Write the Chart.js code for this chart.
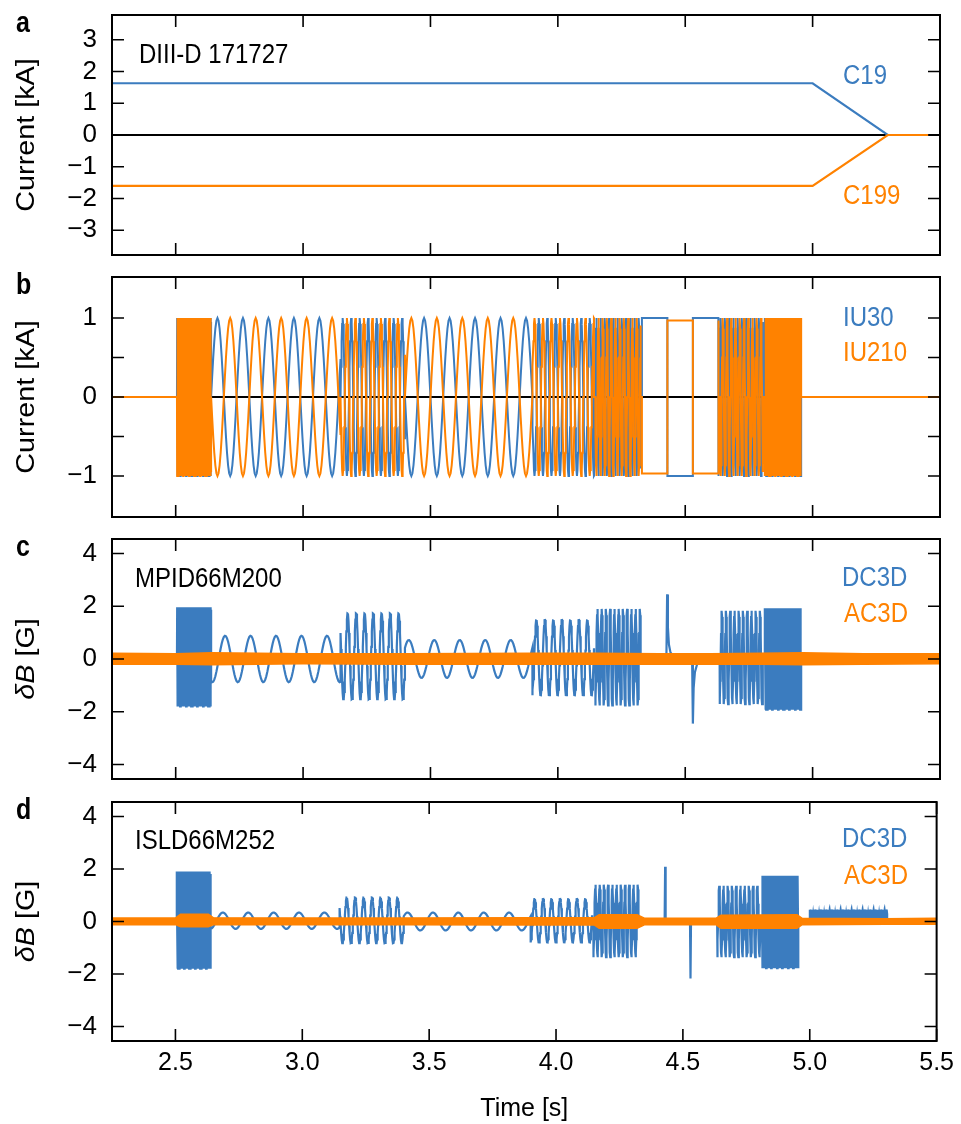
<!DOCTYPE html>
<html>
<head>
<meta charset="utf-8">
<script src="https://cdn.jsdelivr.net/npm/chart.js@4.4.1/dist/chart.umd.min.js"></script>
<style>
  html, body { margin: 0; padding: 0; background: #fff; }
  #fig { position: relative; width: 961px; height: 1124px; }
  #fig canvas { position: absolute; left: 0; top: 0; }
</style>
</head>
<body>
<div id="fig">
  <canvas id="panelA" width="961" height="1124"></canvas>
  <canvas id="panelB" width="961" height="1124"></canvas>
  <canvas id="panelC" width="961" height="1124"></canvas>
  <canvas id="panelD" width="961" height="1124"></canvas>
</div>
<script>
const FAMILY = "'Liberation Sans', Arial, sans-serif";
const BLUE = '#3b7cbf';
const ORANGE = '#ff8200';

// axis ticks
const timeTicks = [2.5, 3.0, 3.5, 4.0, 4.5, 5.0, 5.5];
const coilTicks = [-3, -2, -1, 0, 1, 2, 3];
const iCoilTicks = [-1, -0.5, 0, 0.5, 1];
const probeTicks = [-4, -2, 0, 2, 4];

// a: C-coil currents [kA]
const cTime = [2.25, 5.0, 5.295, 5.455];
const c19 = [1.63, 1.63, 0, 0];
const c199 = [-1.6, -1.6, 0, 0];

// b: I-coil programme, one entry per segment
const segStart = [2.505, 2.639, 3.147, 3.400, 3.900, 4.147, 4.330, 4.635, 4.812];
const segEnd   = [2.639, 3.147, 3.400, 3.900, 4.142, 4.325, 4.631, 4.805, 4.955];
const segFreq  = [300, 10, 30, 10, 30, 60, 5, 60, 300];          // Hz
const segShape = ['sine', 'sine', 'sine', 'sine', 'sine', 'sine', 'square', 'sine', 'sine'];
const iu30Amp  = [1, 1, 1, -1, -1, 1, 1, 1, 1];                  // kA, sign = first swing
const iu210Amp = [-1, -1, -1, 1, 1, -1, -0.97, -1, -1];

// c: MPID66M200 DC3D response per segment [G]
const mpidAmp = [1.88, 0.88, 1.65, 0.72, 1.45, 1.83, 0, 1.77, 1.92];
const mpidOff = [0.08, 0, 0.1, 0, 0.05, 0.07, 0, 0.06, 0];
const mpidLag = [0, 0.30, 0.59, -0.10, 0.22, 0.25, 0, 0.25, 0];  // cycles
const mpidSpikeT = [4.426, 4.429, 4.432, 4.436, 4.442, 4.452, 4.470, 4.527, 4.530, 4.533, 4.538, 4.546, 4.556, 4.575];
const mpidSpikeV = [0, 2.45, 1.2, 0.55, 0.25, 0.12, 0.03, 0, -2.45, -1.1, -0.5, -0.22, -0.1, -0.03];
const mpidNoiseT  = [2.25, 2.5, 2.64, 3.0, 3.4, 3.9, 4.15, 4.4, 4.6, 4.8, 4.96, 5.2, 5.5];
const mpidNoiseHi = [0.22, 0.2, 0.24, 0.2, 0.2, 0.22, 0.22, 0.2, 0.2, 0.22, 0.24, 0.2, 0.2];
const mpidNoiseLo = [-0.2, -0.2, -0.22, -0.18, -0.2, -0.2, -0.2, -0.2, -0.2, -0.2, -0.22, -0.2, -0.18];

// d: ISLD66M252 DC3D response per segment [G]
const isldAmp = [1.85, 0.31, 0.88, 0.34, 0.84, 1.38, 0, 1.36, 1.76];
const isldOff = [0.05, 0.03, 0.04, 0, 0.03, 0.02, 0, 0, -0.02];
const isldLag = [0, 0.23, 0.59, -0.10, 0.22, 0.25, 0, 0.25, 0];
const isldTail = { start: 5.0, end: 5.305, freq: 300, amp: 0.17, off: 0.28 };
const isldSpikeT = [4.428, 4.430, 4.432, 4.528, 4.530, 4.532];
const isldSpikeV = [0, 2.08, 0, 0, -2.17, 0];
const isldNoiseT  = [2.25, 2.5, 2.52, 2.63, 2.65, 3.15, 3.4, 3.9, 4.15, 4.17, 4.32, 4.35, 4.63, 4.65, 4.95, 4.97, 5.3, 5.5];
const isldNoiseHi = [0.13, 0.13, 0.28, 0.28, 0.14, 0.13, 0.13, 0.14, 0.14, 0.26, 0.26, 0.12, 0.12, 0.24, 0.26, 0.12, 0.1, 0.12];
const isldNoiseLo = [-0.12, -0.12, -0.2, -0.2, -0.12, -0.12, -0.12, -0.13, -0.13, -0.26, -0.26, -0.12, -0.12, -0.26, -0.26, -0.12, -0.1, -0.1];

// one tone burst (or square burst) between t0 and t1
function burst(pts, t0, t1, f, a, lag, off, shape) {
  if (!a) return;
  pts.push({x: t0, y: 0});
  if (shape === 'square') {
    let t = t0, s = 1;
    while (t < t1 - 1e-6) {
      const tn = Math.min(t + 0.5 / f, t1);
      pts.push({x: t, y: s * a}, {x: tn, y: s * a});
      s = -s; t = tn;
    }
  } else {
    const spc = f > 100 ? 4 : f > 40 ? 12 : f > 20 ? 16 : 24;
    const n = Math.floor((t1 - t0) * f * spc);
    const at = t => ({x: t, y: off + a * Math.sin(2 * Math.PI * (f * (t - t0) - lag))});
    for (let k = 0; k <= n; k++) pts.push(at(t0 + k / (f * spc)));
    pts.push(at(t1));
  }
  pts.push({x: t1, y: 0});
}

function wave(amp, lag, off, extraT, extraV) {
  const pts = [{x: 2.25, y: 0}];
  segStart.forEach((t0, i) => {
    burst(pts, t0, segEnd[i], segFreq[i], amp[i], lag ? lag[i] : 0, off ? off[i] : 0, segShape[i]);
  });
  if (extraT) extraT.forEach((t, i) => pts.push({x: t, y: extraV[i]}));
  pts.push({x: 5.5, y: 0});
  return pts.sort((p, q) => p.x - q.x);
}

const xy = (xs, ys) => xs.map((x, i) => ({x, y: ys[i]}));
const zero = [{x: 2.25, y: 0}, {x: 5.5, y: 0}];
const fmt = v => (v < 0 ? '\u2212' : '') + Math.abs(v);

// inward ticks on all four sides plus the box
function frame(yTicks) {
  return {
    id: 'frame',
    afterDatasetsDraw(chart) {
      const {ctx, chartArea: {left, right, top, bottom}, scales: {x, y}} = chart;
      ctx.save();
      ctx.strokeStyle = '#000';
      ctx.lineWidth = 1.6;
      ctx.beginPath();
      timeTicks.forEach(v => {
        const px = x.getPixelForValue(v);
        ctx.moveTo(px, top); ctx.lineTo(px, top + 12);
        ctx.moveTo(px, bottom); ctx.lineTo(px, bottom - 12);
      });
      yTicks.forEach(v => {
        const py = y.getPixelForValue(v);
        ctx.moveTo(left, py); ctx.lineTo(left + 12, py);
        ctx.moveTo(right, py); ctx.lineTo(right - 12, py);
      });
      ctx.stroke();
      ctx.lineWidth = 2;
      ctx.strokeRect(left, top, right - left, bottom - top);
      ctx.restore();
    }
  };
}

// panel letter, rotated y title and in-panel names (drawn slightly tall)
const STRETCH = 1.15;
function texts(letter, title, notes) {
  return {
    id: 'texts',
    afterDraw(chart) {
      const {ctx, chartArea: a} = chart;
      ctx.save();
      ctx.fillStyle = '#000';
      ctx.textBaseline = 'alphabetic';

      ctx.save();
      ctx.translate(16, a.top + 17);
      ctx.scale(1, STRETCH);
      ctx.font = 'bold 25px ' + FAMILY;
      ctx.fillText(letter, 0, 0);
      ctx.restore();

      ctx.save();
      ctx.translate(27, (a.top + a.bottom) / 2);
      ctx.rotate(-Math.PI / 2);
      ctx.scale(STRETCH, 1);
      ctx.textBaseline = 'middle';
      let w = 0;
      title.forEach(([s, st]) => { ctx.font = st + '25px ' + FAMILY; w += ctx.measureText(s).width; });
      let cx = -w / 2;
      title.forEach(([s, st]) => {
        ctx.font = st + '25px ' + FAMILY;
        ctx.fillText(s, cx, 0);
        cx += ctx.measureText(s).width;
      });
      ctx.restore();

      ctx.font = '24px ' + FAMILY;
      notes.forEach(([s, x, y, c]) => {
        ctx.save();
        ctx.translate(x, y);
        ctx.scale(1, STRETCH);
        ctx.fillStyle = c;
        ctx.fillText(s, 0, 0);
        ctx.restore();
      });
      ctx.restore();
    }
  };
}

Chart.defaults.font.family = FAMILY;
Chart.defaults.color = '#000';

function panel(id, cfg) {
  const bottomAxis = !!cfg.timeAxis;
  const x = {
    type: 'linear', min: 2.25, max: 5.5, display: bottomAxis,
    afterBuildTicks: s => { s.ticks = timeTicks.map(v => ({value: v})); },
    grid: {display: false, drawTicks: false}, border: {display: false},
    ticks: {padding: 7, autoSkip: false, maxRotation: 0, font: {size: 25}, callback: v => v.toFixed(1)},
    title: {display: true, text: 'Time [s]', font: {size: 25}, padding: {top: 0, bottom: 0}}
  };
  if (bottomAxis) x.afterFit = s => { s.height = 1124 - cfg.bottom; };
  return new Chart(document.getElementById(id), {
    type: 'line',
    data: {datasets: cfg.datasets},
    options: {
      animation: false, responsive: false, devicePixelRatio: 1,
      parsing: false, normalized: true,
      layout: {padding: {top: cfg.top, bottom: bottomAxis ? 0 : 1124 - cfg.bottom, left: 0, right: 21}},
      elements: {point: {radius: 0}, line: {tension: 0}},
      plugins: {legend: {display: false}, tooltip: {enabled: false}},
      scales: {
        x,
        y: {
          type: 'linear', min: -cfg.ymax, max: cfg.ymax,
          afterBuildTicks: s => { s.ticks = cfg.yTicks.map(v => ({value: v})); },
          afterFit: s => { s.width = 112; s.paddingTop = 0; s.paddingBottom = 0; },
          grid: {display: false, drawTicks: false}, border: {display: false},
          ticks: {padding: 15, font: {size: 26}, callback: v => Number.isInteger(v) ? fmt(v) : ''}
        }
      }
    },
    plugins: [frame(cfg.yTicks), texts(cfg.letter, cfg.title, cfg.notes)]
  });
}

const line = (data, color, width, order, extra) =>
  Object.assign({data, borderColor: color, borderWidth: width, order, fill: false}, extra || {});

panel('panelA', {
  top: 15, bottom: 255, ymax: 3.78, yTicks: coilTicks, letter: 'a',
  title: [['Current [kA]', '']],
  notes: [['DIII-D 171727', 139, 63, '#000'], ['C19', 843, 84, BLUE], ['C199', 843, 204, ORANGE]],
  datasets: [
    line(xy(cTime, c199), ORANGE, 2.2, 0),
    line(xy(cTime, c19), BLUE, 2.2, 1),
    line(zero, '#000', 2, 2)
  ]
});

panel('panelB', {
  top: 277, bottom: 517, ymax: 1.52, yTicks: iCoilTicks, letter: 'b',
  title: [['Current [kA]', '']],
  notes: [['IU30', 843, 326, BLUE], ['IU210', 843, 361, ORANGE]],
  datasets: [
    line(wave(iu210Amp), ORANGE, 2, 0),
    line(wave(iu30Amp), BLUE, 2, 1),
    line(zero, '#000', 2, 2)
  ]
});

panel('panelC', {
  top: 539, bottom: 779, ymax: 4.55, yTicks: probeTicks, letter: 'c',
  title: [['\u03b4', 'italic '], ['B', 'italic '], [' [G]', '']],
  notes: [['MPID66M200', 135, 587, '#000'], ['DC3D', 842, 586, BLUE], ['AC3D', 844, 622, ORANGE]],
  datasets: [
    line(xy(mpidNoiseT, mpidNoiseHi), ORANGE, 1.5, 0, {fill: '+1', backgroundColor: ORANGE}),
    line(xy(mpidNoiseT, mpidNoiseLo), ORANGE, 1.5, 0),
    line(wave(mpidAmp, mpidLag, mpidOff, mpidSpikeT, mpidSpikeV), BLUE, 2.2, 1)
  ]
});

const isldWave = wave(isldAmp, isldLag, isldOff, isldSpikeT, isldSpikeV);
const tail = [];
burst(tail, isldTail.start, isldTail.end, isldTail.freq, isldTail.amp, 0, isldTail.off, 'sine');
const isldAll = isldWave.filter(p => p.x < isldTail.start || p.x > isldTail.end).concat(tail).sort((p, q) => p.x - q.x);

panel('panelD', {
  top: 802, bottom: 1041, ymax: 4.55, yTicks: probeTicks, letter: 'd', timeAxis: true,
  title: [['\u03b4', 'italic '], ['B', 'italic '], [' [G]', '']],
  notes: [['ISLD66M252', 135, 849, '#000'], ['DC3D', 842, 847, BLUE], ['AC3D', 844, 884, ORANGE]],
  datasets: [
    line(xy(isldNoiseT, isldNoiseHi), ORANGE, 1.5, 0, {fill: '+1', backgroundColor: ORANGE}),
    line(xy(isldNoiseT, isldNoiseLo), ORANGE, 1.5, 0),
    line(isldAll, BLUE, 2.2, 1)
  ]
});
</script>
</body>
</html>
